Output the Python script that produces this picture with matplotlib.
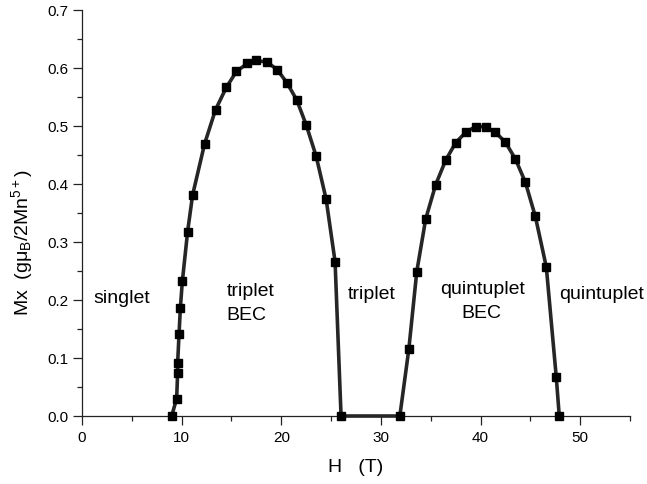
import matplotlib
matplotlib.use("Agg")
import matplotlib.pyplot as plt
from matplotlib.ticker import MultipleLocator

plt.rcParams['font.family'] = ['Liberation Sans', 'DejaVu Sans']
plt.rcParams['mathtext.fontset'] = 'custom'
plt.rcParams['mathtext.rm'] = 'Liberation Sans'
plt.rcParams['mathtext.it'] = 'Liberation Sans:italic'
plt.rcParams['mathtext.bf'] = 'Liberation Sans:bold'

# Data (H in tesla, Mx in g*muB / 2Mn5+)
H = [9.0, 9.5, 9.6, 9.6, 9.74, 9.87, 10.07, 10.6, 11.1, 12.3, 13.4, 14.5,
     15.5, 16.6, 17.5, 18.6, 19.6, 20.55, 21.55, 22.5, 23.5, 24.5, 25.4, 26.0,
     31.9, 32.8, 33.6, 34.5, 35.5, 36.5, 37.5, 38.5, 39.5, 40.5, 41.5, 42.5,
     43.5, 44.5, 45.5, 46.6, 47.6, 47.9]
Mx = [0.0, 0.03, 0.075, 0.092, 0.141, 0.186, 0.232, 0.318, 0.381, 0.469, 0.528, 0.567,
      0.594, 0.608, 0.613, 0.610, 0.597, 0.575, 0.545, 0.502, 0.448, 0.374, 0.266, 0.0,
      0.0, 0.115, 0.249, 0.340, 0.399, 0.441, 0.471, 0.489, 0.499, 0.499, 0.489, 0.472,
      0.443, 0.403, 0.344, 0.257, 0.067, 0.0]

x_label = "H   (T)"
y_label = "Mx  (gμ$_{\\rm B}$/2Mn$^{5+}$)"

fig = plt.figure(figsize=(6.47, 4.85), dpi=100)
ax = fig.add_axes([82/647, 1 - 417/485, (630 - 82)/647, (417 - 11)/485])

ax.plot(H, Mx, '-', color='#262626', lw=2.6, marker='s', ms=6.3,
        mfc='black', mec='black', clip_on=False, zorder=3)

ax.set_xlim(0, 55)
ax.set_ylim(0, 0.7)
ax.xaxis.set_major_locator(MultipleLocator(10))
ax.xaxis.set_minor_locator(MultipleLocator(5))
ax.yaxis.set_major_locator(MultipleLocator(0.1))
ax.yaxis.set_minor_locator(MultipleLocator(0.05))
ax.yaxis.set_major_formatter(plt.FormatStrFormatter('%.1f'))

for s in ['top', 'right']:
    ax.spines[s].set_visible(False)
for s in ['left', 'bottom']:
    ax.spines[s].set_linewidth(0.9)
    ax.spines[s].set_color('#222222')

ax.tick_params(which='major', direction='out', length=6.5, width=0.9,
               labelsize=11, pad=3.5, color='#222222')
ax.tick_params(which='minor', direction='out', length=3.5, width=0.9, color='#222222')

ax.set_xlabel(x_label, fontsize=14, labelpad=10)
ax.set_ylabel(y_label, fontsize=14)
ax.yaxis.set_label_coords(-0.085, 0.43)

fs = 14
ax.text(1.1, 0.196, "singlet", fontsize=fs, ha='left', va='baseline')
ax.text(14.5, 0.208, "triplet", fontsize=fs, ha='left', va='baseline')
ax.text(14.5, 0.167, "BEC", fontsize=fs, ha='left', va='baseline')
ax.text(26.7, 0.203, "triplet", fontsize=fs, ha='left', va='baseline')
ax.text(40.2, 0.212, "quintuplet", fontsize=fs, ha='center', va='baseline')
ax.text(40.1, 0.170, "BEC", fontsize=fs, ha='center', va='baseline')
ax.text(47.9, 0.203, "quintuplet", fontsize=fs, ha='left', va='baseline')

fig.savefig("out.png", dpi=100)
